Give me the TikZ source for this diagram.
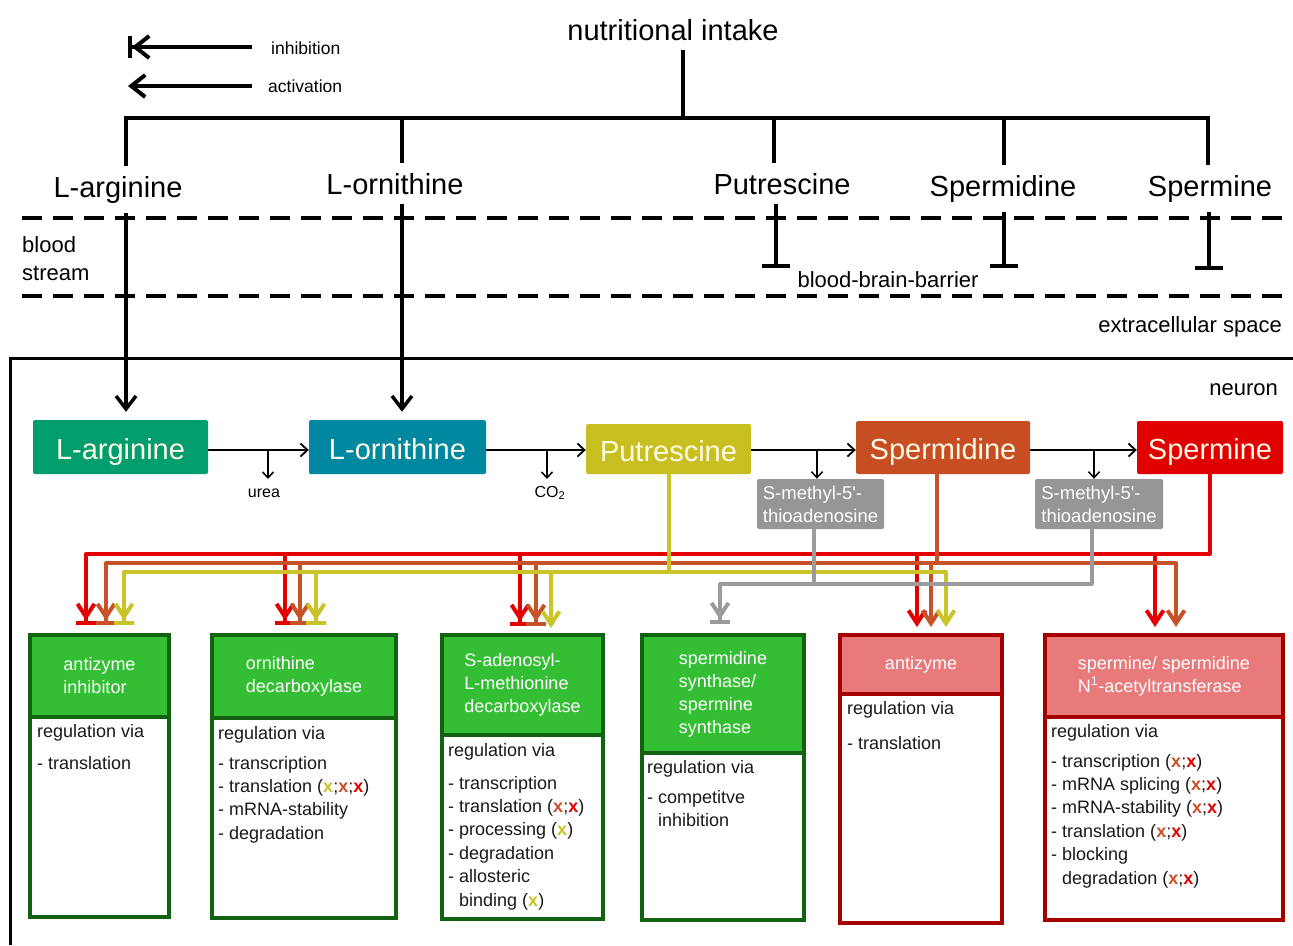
\documentclass[tikz,border=0pt]{standalone}
\usepackage{fontspec}
\setmainfont{Liberation Sans}
\usetikzlibrary{arrows.meta,calc}
\definecolor{cArg}{RGB}{0,158,110}
\definecolor{cOrn}{RGB}{0,136,160}
\definecolor{cPut}{RGB}{200,192,32}
\definecolor{cSpd}{RGB}{198,78,34}
\definecolor{cSpm}{RGB}{224,0,0}
\definecolor{cGrey}{RGB}{150,150,150}
\definecolor{lRed}{RGB}{226,0,0}
\definecolor{lOra}{RGB}{200,82,40}
\definecolor{lYel}{RGB}{202,196,40}
\definecolor{lGry}{RGB}{155,155,155}
\definecolor{hGreen}{RGB}{52,190,52}
\definecolor{dGreen}{RGB}{18,98,18}
\definecolor{hPink}{RGB}{232,122,124}
\definecolor{dRed}{RGB}{165,0,0}
\definecolor{cCream}{RGB}{255,250,232}
\definecolor{cTxt}{RGB}{25,25,25}
\newcommand\mkY{\textcolor{lYel}{\textbf{x}}}
\newcommand\mkO{\textcolor{lOra}{\textbf{x}}}
\newcommand\mkR{\textcolor{lRed}{\textbf{x}}}
\begin{document}
\begin{tikzpicture}[x=1pt,y=-1pt,
  bigtxt/.style={font=\fontsize{29}{32}\selectfont, inner sep=10pt},
  blk/.style={line width=3.5pt, draw=black},
  blkarr/.style={blk, -{Straight Barb[length=13pt,width=20pt]}},
  blkinh/.style={blk, -{Bar[width=28pt,line width=4pt]}},
  dashln/.style={line width=3.5pt, dash pattern=on 20pt off 11pt},
  midbox/.style={inner sep=0pt, rounded corners=1.5pt, text=cCream, font=\fontsize{29}{32}\selectfont, text height=24pt, text depth=0pt},
  rowarr/.style={line width=1.8pt, -{Straight Barb[length=7pt,width=13pt]}},
  downarr/.style={line width=1.5pt, -{Straight Barb[length=6pt,width=11pt]}},
  smalltxt/.style={font=\fontsize{16}{18}\selectfont, inner sep=1pt},
  greybox/.style={fill=cGrey, text=white, inner sep=0pt, rounded corners=1.5pt, align=left, font=\fontsize{18.5}{23}\selectfont},
  colln/.style={line width=4pt, line join=round},
  act/.style={-{Straight Barb[length=13pt,width=17pt]}},
  inhb/.style={-{Straight Barb[length=13pt,width=17pt] Bar[width=20pt,line width=4.5pt,sep=1pt]}},
  outbox/.style={line width=4pt, inner sep=0pt, anchor=north west, fill=white},
  hdr/.style={line width=4pt, inner sep=0pt, anchor=north west, text=white, align=left, font=\fontsize{18}{23}\selectfont},
  bodytxt/.style={anchor=north west, inner sep=0pt, align=left, text=cTxt, font=\fontsize{18}{23.4}\selectfont},
  lbl/.style={font=\fontsize{22}{28}\selectfont, inner sep=0pt},
  legtxt/.style={font=\fontsize{17.5}{20}\selectfont, inner sep=0pt}
]
\useasboundingbox (0,0) rectangle (1293,945);
\fill[white] (0,0) rectangle (1293,945);

% legend
\coordinate (li1) at (128,47); \coordinate (li2) at (252,47);
\draw[line width=4pt, -{Straight Barb[length=14pt,width=22pt] Bar[width=22pt]}] (li2) -- (li1);
\node[legtxt, anchor=west] (linh) at (271,48) {inhibition};
\coordinate (la1) at (128,86); \coordinate (la2) at (252,86);
\draw[line width=4pt, -{Straight Barb[length=14pt,width=22pt]}] (la2) -- (la1);
\node[legtxt, anchor=west] (lact) at (268,86) {activation};

% top
\node[bigtxt, anchor=base] (ni) at (673,40) {nutritional intake};
\node[bigtxt, anchor=base] (tArg) at (118,197) {L-arginine};
\node[bigtxt, anchor=base] (tOrn) at (395,194) {L-ornithine};
\node[bigtxt, anchor=base] (tPut) at (782,194) {Putrescine};
\node[bigtxt, anchor=base] (tSpd) at (1003,196) {Spermidine};
\node[bigtxt, anchor=base] (tSpm) at (1210,196) {Spermine};
\coordinate (jN) at (683,118);
\coordinate (jA) at (126,118); \coordinate (jB) at (402,118);
\coordinate (jC) at (774,118); \coordinate (jD) at (1004,118);
\coordinate (jE) at (1208,118);
\draw[blk] (jN |- ni.south) -- (jN);
\draw[blk, line join=miter] (jA |- tArg.north) -- (jA) -- (jE) -- (jE |- tSpm.north);
\draw[blk] (jB) -- (jB |- tOrn.north);
\draw[blk] (jC) -- (jC |- tPut.north);
\draw[blk] (jD) -- (jD |- tSpd.north);

% blood stream
\draw[dashln] (22,218) -- (1293,218);
\draw[dashln] (22,296) -- (1293,296);
\node[lbl, anchor=north west, align=left] (bs) at (22,236) {blood\\stream};
\coordinate (bP) at (776,268); \coordinate (bS) at (1004,268); \coordinate (bM) at (1209,270);
\draw[blkinh] (bP |- tPut.south) -- (bP);
\draw[blkinh] (bS |- tSpd.south) -- (bS);
\draw[blkinh] (bM |- tSpm.south) -- (bM);
\node[lbl] (bbb) at (888,280) {blood-brain-barrier};
\node[lbl, anchor=east] (ecs) at (1282,327) {extracellular space};

% neuron
\draw[line width=3pt] (10,945) -- (10,358) -- (1293,358);
\node[lbl, anchor=east] (neu) at (1278,390) {neuron};

% middle row
\node[midbox, fill=cArg, minimum width=175pt, minimum height=54pt] (arg) at (120.5,447) {L-arginine};
\node[midbox, fill=cOrn, minimum width=177pt, minimum height=54pt] (orn) at (397.5,447) {L-ornithine};
\node[midbox, fill=cPut, minimum width=165pt, minimum height=50pt] (put) at (668.5,449) {Putrescine};
\node[midbox, fill=cSpd, minimum width=174pt, minimum height=53pt] (spd) at (943,447.5) {Spermidine};
\node[midbox, fill=cSpm, minimum width=146pt, minimum height=53pt] (spm) at (1210,447.5) {Spermine};
\node[greybox, minimum width=127pt, minimum height=50pt] (g1) at (820.5,504) {S-methyl-5\textquotesingle-\\thioadenosine};
\node[greybox, minimum width=128pt, minimum height=50pt] (g2) at (1099,504) {S-methyl-5\textquotesingle-\\thioadenosine};

\draw[blkarr, shorten >=8pt] (jA |- tArg.south) -- (jA |- arg.north);
\draw[blkarr, shorten >=8pt] (jB |- tOrn.south) -- (jB |- orn.north);

\coordinate (rowY) at (0,450);
\draw[rowarr] (arg.east |- rowY) -- (orn.west |- rowY);
\draw[rowarr] (orn.east |- rowY) -- (put.west |- rowY);
\draw[rowarr] (put.east |- rowY) -- (spd.west |- rowY);
\draw[rowarr] (spd.east |- rowY) -- (spm.west |- rowY);
\node[smalltxt] (urea) at (264,493) {urea};
\node[smalltxt] (co2) at (550,493) {CO\textsubscript{2}};
\coordinate (dU) at (268,450); \coordinate (dC) at (547,450);
\coordinate (dG1) at (817,450); \coordinate (dG2) at (1094,450);
\draw[downarr] (dU) -- (dU |- 0,479);
\draw[downarr] (dC) -- (dC |- 0,479);
\draw[downarr] (dG1) -- (dG1 |- g1.north);
\draw[downarr] (dG2) -- (dG2 |- g2.north);

% coloured connectors
\coordinate (hR) at (0,554); \coordinate (hO) at (0,563);
\coordinate (hY) at (0,572); \coordinate (hG) at (0,584);
\coordinate (r1) at (86,626); \coordinate (r2) at (285,626); \coordinate (r3) at (520,627);
\coordinate (r4) at (917,627); \coordinate (r5) at (1155,627);
\coordinate (o1) at (106,626); \coordinate (o2) at (300,626); \coordinate (o3) at (536,627);
\coordinate (o4) at (931,627); \coordinate (o5) at (1176,627);
\coordinate (y1) at (124,626); \coordinate (y2) at (316,626); \coordinate (y3) at (551,628);
\coordinate (y4) at (946,627);
\coordinate (gt) at (720,625);
\coordinate (vO) at (937,0); \coordinate (vG1) at (814,0); \coordinate (vG2) at (1092,0);

\draw[colln, lRed, inhb] (spm.south) |- (r1 |- hR) -- (r1);
\draw[colln, lRed, inhb] (r2 |- hR) -- (r2);
\draw[colln, lRed, inhb] (r3 |- hR) -- (r3);
\draw[colln, lRed, act] (r4 |- hR) -- (r4);
\draw[colln, lRed, act] (r5 |- hR) -- (r5);

\draw[colln, lOra, act] (vO |- spd.south) |- (o5 |- hO) -- (o5);
\draw[colln, lOra, inhb] (o5 |- hO) -- (o1 |- hO) -- (o1);
\draw[colln, lOra, inhb] (o2 |- hO) -- (o2);
\draw[colln, lOra, inhb] (o3 |- hO) -- (o3);
\draw[colln, lOra, act] (o4 |- hO) -- (o4);

\draw[colln, lYel, act] (put.south) |- (y4 |- hY) -- (y4);
\draw[colln, lYel, inhb] (y4 |- hY) -- (y1 |- hY) -- (y1);
\draw[colln, lYel, inhb] (y2 |- hY) -- (y2);
\draw[colln, lYel, act] (y3 |- hY) -- (y3);

\draw[colln, lGry, inhb] (vG1 |- g1.south) |- (gt |- hG) -- (gt);
\draw[colln, lGry] (vG2 |- g2.south) |- (vG1 |- hG);

% enzyme boxes
\node[outbox, draw=dGreen, minimum width=139pt, minimum height=282pt] (b1) at (28,633) {};
\node[hdr, draw=dGreen, fill=hGreen, minimum width=139pt, minimum height=82pt] (h1) at (28,633) {antizyme\\inhibitor};
\node[bodytxt] (t1) at (37,720.6) {\strut regulation via\\[8.6pt]- translation};

\node[outbox, draw=dGreen, minimum width=184pt, minimum height=283pt] (b2) at (210,633) {};
\node[hdr, draw=dGreen, fill=hGreen, minimum width=184pt, minimum height=83pt] (h2) at (210,633) {ornithine\\decarboxylase};
\node[bodytxt] (t2) at (218,722.6) {\strut regulation via\\[6.6pt]- transcription\\- translation (\mkY;\mkO;\mkR)\\- mRNA-stability\\- degradation};

\node[outbox, draw=dGreen, minimum width=161pt, minimum height=284pt] (b3) at (440,633) {};
\node[hdr, draw=dGreen, fill=hGreen, minimum width=161pt, minimum height=100pt] (h3) at (440,633) {S-adenosyl-\\L-methionine\\decarboxylase};
\node[bodytxt] (t3) at (448,739.6) {\strut regulation via\\[9.6pt]- transcription\\- translation (\mkO;\mkR)\\- processing (\mkY)\\- degradation\\- allosteric\\\phantom{- }binding (\mkY)};

\node[outbox, draw=dGreen, minimum width=162pt, minimum height=285pt] (b4) at (640,633) {};
\node[hdr, draw=dGreen, fill=hGreen, minimum width=162pt, minimum height=118pt] (h4) at (640,633) {spermidine\\synthase/\\spermine\\synthase};
\node[bodytxt] (t4) at (647,756.6) {\strut regulation via\\[6.6pt]- competitve\\\phantom{- }inhibition};

\node[outbox, draw=dRed, minimum width=162pt, minimum height=288pt] (b5) at (838,633) {};
\node[hdr, draw=dRed, fill=hPink, minimum width=162pt, minimum height=59pt] (h5) at (838,633) {antizyme};
\node[bodytxt] (t5) at (847,697.6) {\strut regulation via\\[11.6pt]- translation};

\node[outbox, draw=dRed, minimum width=238pt, minimum height=285pt] (b6) at (1043,633) {};
\node[hdr, draw=dRed, fill=hPink, minimum width=238pt, minimum height=82pt] (h6) at (1043,633) {spermine/ spermidine\\N\textsuperscript{1}-acetyltransferase};
\node[bodytxt] (t6) at (1051,720.6) {\strut regulation via\\[6.6pt]- transcription (\mkO;\mkR)\\- mRNA splicing (\mkO;\mkR)\\- mRNA-stability (\mkO;\mkR)\\- translation (\mkO;\mkR)\\- blocking\\\phantom{- }degradation (\mkO;\mkR)};
\end{tikzpicture}
\end{document}
